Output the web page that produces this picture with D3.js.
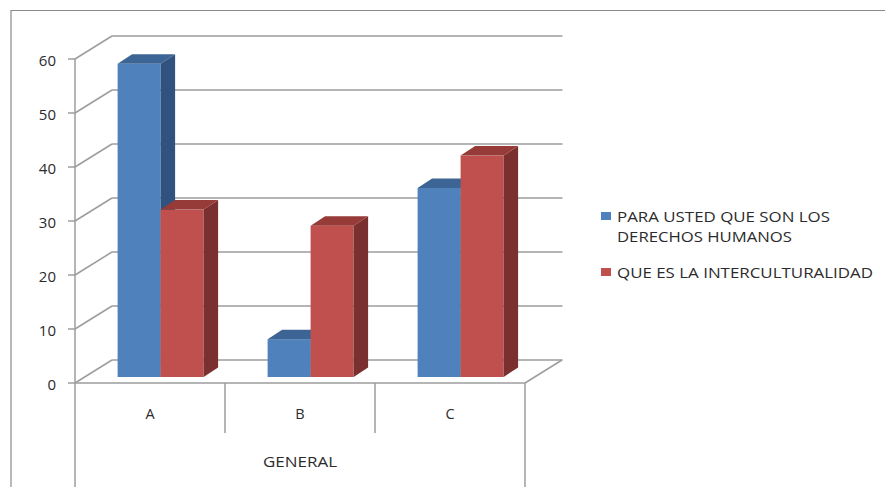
<!DOCTYPE html>
<html>
<head>
<meta charset="utf-8">
<script src="https://cdn.jsdelivr.net/npm/d3@7"></script>
<style>
  html, body { margin: 0; padding: 0; background: #fff; }
  svg { display: block; }
  text { font-family: "Open Sans", "Liberation Sans", sans-serif; fill: #2b2b2b; }
</style>
</head>
<body>
<svg id="chart" width="885" height="487"></svg>
<script>
// ---- data ----
const categories = ["A", "B", "C"];
const seriesNames = ["PARA USTED QUE SON LOS DERECHOS HUMANOS", "QUE ES LA INTERCULTURALIDAD"];
const serie1 = [58, 7, 35];
const serie2 = [31, 28, 41];
const yTicks = [0, 10, 20, 30, 40, 50, 60];
const groupLabel = "GENERAL";
const legendLines = [["PARA USTED QUE SON LOS", "DERECHOS HUMANOS"], ["QUE ES LA INTERCULTURALIDAD"]];

const seriesValues = [serie1, serie2];
const colors = [
  { front: "#4F81BD", side: "#30527E", top: "#3C6494" },
  { front: "#C0504D", side: "#7A302E", top: "#973B38" }
];

const svg = d3.select("#chart");

// ---- geometry ----
const floorY = 383, topY = 59;
const left = 75, right = 525;
const wallDX = 37, wallDY = -23;      // depth of back wall
const barDX = 9.6, barDY = -6;        // bar front offset from front floor
const depthDX = 14.5, depthDY = -9.5; // bar thickness
const grid = "#9d9d9d";

const y = d3.scaleLinear().domain([0, 60]).range([floorY, topY]);
const x = d3.scaleBand().domain(categories).range([left, right]).padding(0);
const xs = d3.scaleBand().domain([0, 1]).range([33, 119]).padding(0);

// chart area border
svg.append("path")
  .attr("d", `M11,500 L11,10.5 L900,10.5`)
  .attr("fill", "none").attr("stroke", "#8a8a8a").attr("stroke-width", 1.2);

// back wall gridlines
const g = svg.append("g");
g.selectAll("line.back").data(yTicks).enter().append("line")
  .attr("x1", left + wallDX).attr("x2", right + wallDX + 0.5)
  .attr("y1", d => y(d) + wallDY).attr("y2", d => y(d) + wallDY)
  .attr("stroke", grid).attr("stroke-width", 1.5);
// left wall diagonals
g.selectAll("line.diag").data(yTicks).enter().append("line")
  .attr("x1", left).attr("x2", left + wallDX)
  .attr("y1", d => y(d)).attr("y2", d => y(d) + wallDY)
  .attr("stroke", grid).attr("stroke-width", 1.5);
// floor right diagonal
g.append("line")
  .attr("x1", right).attr("y1", y(0)).attr("x2", right + wallDX).attr("y2", y(0) + wallDY)
  .attr("stroke", grid).attr("stroke-width", 1.5);
// front vertical axis line
g.append("line")
  .attr("x1", left).attr("x2", left).attr("y1", y(60)).attr("y2", 487)
  .attr("stroke", grid).attr("stroke-width", 1.5);
// ticks
g.selectAll("line.tick").data(yTicks).enter().append("line")
  .attr("x1", left - 7).attr("x2", left)
  .attr("y1", d => y(d)).attr("y2", d => y(d))
  .attr("stroke", grid).attr("stroke-width", 1.5);
// tick labels
g.selectAll("text.tl").data(yTicks).enter().append("text")
  .attr("x", 56).attr("y", d => y(d) + 7)
  .attr("text-anchor", "end")
  .attr("font-size", 15).text(d => d);

// bars
const bars = svg.append("g");
categories.forEach((c, ci) => {
  seriesValues.forEach((vals, si) => {
    const v = vals[ci];
    const x0 = x(c) + barDX + xs(si);
    const x1 = x0 + xs.bandwidth();
    const yb = y(0) + barDY;
    const yt = y(v) + barDY;
    const col = colors[si];
    bars.append("rect")
      .attr("x", x0).attr("y", yt).attr("width", x1 - x0).attr("height", yb - yt)
      .attr("fill", col.front);
    bars.append("path")
      .attr("d", `M${x1},${yt} L${x1 + depthDX},${yt + depthDY} L${x1 + depthDX},${yb + depthDY} L${x1},${yb} Z`)
      .attr("fill", col.side);
    bars.append("path")
      .attr("d", `M${x0},${yt} L${x0 + depthDX},${yt + depthDY} L${x1 + depthDX},${yt + depthDY} L${x1},${yt} Z`)
      .attr("fill", col.top);
  });
});

// front floor edge and category dividers
const f = svg.append("g");
f.append("line")
  .attr("x1", left).attr("x2", right).attr("y1", y(0)).attr("y2", y(0))
  .attr("stroke", grid).attr("stroke-width", 1.5);
f.append("line")
  .attr("x1", right).attr("x2", right).attr("y1", y(0)).attr("y2", 487)
  .attr("stroke", grid).attr("stroke-width", 1.5);
f.selectAll("line.div").data(categories.slice(1)).enter().append("line")
  .attr("x1", d => x(d)).attr("x2", d => x(d))
  .attr("y1", y(0)).attr("y2", 433)
  .attr("stroke", grid).attr("stroke-width", 1.5);
f.selectAll("text.cat").data(categories).enter().append("text")
  .attr("x", d => x(d) + x.bandwidth() / 2).attr("y", 418.5)
  .attr("text-anchor", "middle").attr("font-size", 14.5).text(d => d);
f.append("text")
  .attr("x", (left + right) / 2).attr("y", 467)
  .attr("text-anchor", "middle").attr("font-size", 14)
  .attr("textLength", 74).attr("lengthAdjust", "spacingAndGlyphs")
  .text(groupLabel);

// legend
const lg = svg.append("g");
const legendY = [212, 268];
const lineWidths = [[213, 175], [256]];
legendLines.forEach((lines, i) => {
  lg.append("rect").attr("x", 601).attr("y", legendY[i]).attr("width", 10).attr("height", 8)
    .attr("fill", colors[i].front);
  lines.forEach((t, j) => {
    lg.append("text")
      .attr("x", 617).attr("y", legendY[i] + 10 + j * 20)
      .attr("font-size", 14)
      .attr("textLength", lineWidths[i][j]).attr("lengthAdjust", "spacingAndGlyphs")
      .text(t);
  });
});
</script>
</body>
</html>
